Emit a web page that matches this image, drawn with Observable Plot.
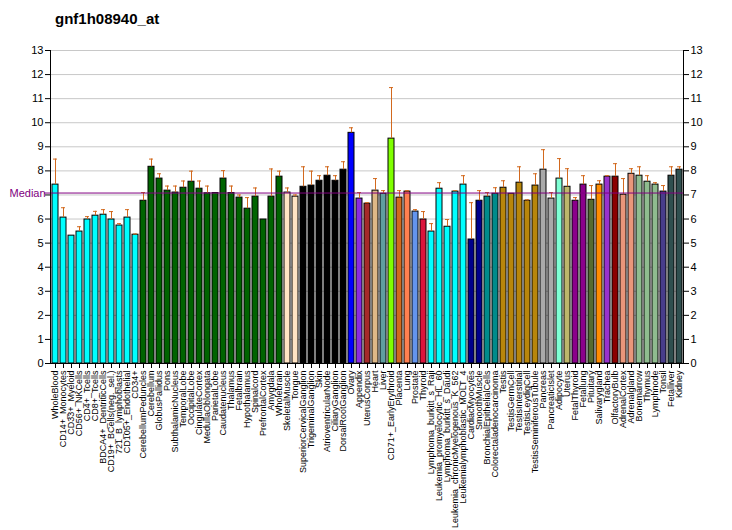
<!DOCTYPE html>
<html>
<head>
<meta charset="utf-8">
<script src="https://cdn.jsdelivr.net/npm/d3@7"></script>
<script src="https://cdn.jsdelivr.net/npm/@observablehq/plot@0.6"></script>
<style>
  body { margin: 0; background: #fff; }
  #wrap { position: relative; width: 732px; height: 530px; font-family: "Liberation Sans", Arial, sans-serif; }
  #title { position: absolute; left: 55px; top: 10px; font-size: 15px; font-weight: bold; color: #000; }
</style>
</head>
<body>
<div id="wrap"><div id="title">gnf1h08940_at</div></div>
<script>
const names = ["WholeBlood","CD14+_Monocytes","CD33+_Myeloid","CD56+_NKCells","CD4+_Tcells","CD8+_Tcells","BDCA4+_DentriticCells","CD19+_BCells(neg._sel.)","721_B_lymphoblasts","CD105+_Endothelial","CD34+",
"CerebellumPeduncles","Cerebellum","GlobusPallidus","Pons","SubthalamicNucleus","TemporalLobe","OccipitalLobe","CingulateCortex","MedullaOblongata","ParietalLobe","Caudatenucleus","Thalamus","Fetalbrain","Hypothalamus","Spinalcord","PrefrontalCortex","Amygdala","Wholebrain",
"SkeletalMuscle","Tongue","SuperiorCervicalGanglion","TrigeminalGanglion","Skin","AtrioventricularNode","CiliaryGanglion","DorsalRootGanglion","Ovary","Appendix","UterusCorpus","Heart","Liver","CD71+_EarlyErythroid","Placenta","Lung","Prostate","Thyroid",
"Lymphoma_burkitt_s_Raji","Leukemia_promyelocytic_HL_60","Lymphoma_burkitt_s_Daudi","Leukemia_chronicMyelogenous_K_562","Leukemialymphoblastic_MOLT_4",
"CardiacMyocytes","SmoothMuscle","BronchialEpithelialCells","Colorectaladenocarcinoma","Testis","TestisGermCell","TestisInterstitial","TestisLeydigCell","TestisSeminiferousTubule","Pancreas","PancreaticIslet","Adipocyte","Uterus","FetalThyroid","Fetallung","Pituitary","Salivarygland","Trachea","OlfactoryBulb","AdrenalCortex","Adrenalgland","Bonemarrow","Thymus","Lymphnode","Tonsil","Fetalliver","Kidney"];

const values = [7.43,6.06,5.31,5.48,5.98,6.14,6.18,5.98,5.73,6.06,5.35,
6.76,8.17,7.68,7.18,7.10,7.30,7.55,7.26,7.07,7.08,7.68,7.08,6.89,6.43,6.93,5.98,6.93,7.76,
7.10,6.93,7.34,7.39,7.59,7.80,7.59,8.05,9.58,6.85,6.64,7.18,7.05,9.34,6.89,7.14,6.31,5.98,
5.48,7.26,5.68,7.14,7.43,
5.15,6.76,6.93,7.05,7.30,7.05,7.51,6.76,7.39,8.05,6.85,7.68,7.34,6.76,7.43,6.80,7.43,7.76,7.76,7.01,7.88,7.80,7.55,7.43,7.14,7.80,8.05];

const errTops = [8.49,6.47,5.31,5.68,6.10,6.32,6.39,6.31,5.81,6.39,5.38,
7.10,8.49,7.88,7.37,7.37,7.58,7.99,7.58,7.37,7.08,8.01,7.37,7.00,6.89,7.29,5.98,8.08,7.99,
7.29,7.00,8.17,7.99,7.80,8.17,7.80,8.38,9.79,7.10,6.68,7.68,7.18,11.46,7.18,7.18,6.39,6.31,
5.81,7.51,5.98,7.18,7.80,
6.68,7.18,7.10,7.30,7.59,7.05,8.17,6.80,7.88,8.88,7.10,8.51,8.09,6.89,7.80,7.39,7.59,7.80,8.30,7.68,8.09,8.17,7.80,7.51,7.39,8.17,8.17];

const colors = [
"cyan","cyan","cyan","cyan","cyan","cyan","cyan","cyan","cyan","cyan","cyan",
"darkgreen","darkgreen","darkgreen","darkgreen","darkgreen","darkgreen","darkgreen","darkgreen","darkgreen","darkgreen","darkgreen","darkgreen","darkgreen","darkgreen","darkgreen","darkgreen","darkgreen","darkgreen",
"bisque","bisque","black","black","black","black","black","black","blue","blueviolet","brown","burlywood","cadetblue","chartreuse","chocolate","coral","cornflowerblue","crimson",
"cyan","cyan","cyan","cyan","cyan",
"darkblue","darkblue","darkcyan","darkcyan","darkgoldenrod","darkgoldenrod","darkgoldenrod","darkgoldenrod","darkgoldenrod","darkgray","darkgray","aquamarine","darkkhaki","darkmagenta","darkmagenta","darkolivegreen","darkorange","darkorchid","darkred","darksalmon","darksalmon","darkseagreen","darkseagreen","darkseagreen","darkslateblue","darkslategray","darkslategray"];

const median = 7.08;
const yTicks = [0,1,2,3,4,5,6,7,8,9,10,11,12,13];

const data = names.map((name, i) => ({name, value: values[i], err: errTops[i], color: colors[i]}));
const withErr = data.filter(d => d.err > d.value + 0.005);

const plot = Plot.plot({
  width: 732,
  height: 530,
  marginTop: 50,
  marginRight: 49,
  marginBottom: 167,
  marginLeft: 50,
  style: {fontFamily: "'Liberation Sans', Arial, sans-serif", background: "white", color: "black"},
  x: {type: "band", domain: names, paddingInner: 0.25, paddingOuter: 0.1},
  y: {domain: [0, 13]},
  marks: [
    Plot.gridY(yTicks.slice(1), {stroke: "#c8c8c8", strokeOpacity: 1}),
    Plot.axisY(yTicks, {anchor: "left", tickSize: 5, tickPadding: 2, fontSize: 11, label: null, tickFormat: d => d === 7 ? "" : String(d)}),
    Plot.axisY(yTicks, {anchor: "right", tickSize: 5, tickPadding: 2, fontSize: 11, label: null}),
    Plot.axisX({tickRotate: -90, tickSize: 5, tickPadding: 2, fontSize: 9, label: null}),
    Plot.barY(data, {x: "name", y: "value", fill: "color", stroke: "black", strokeWidth: 1}),
    Plot.ruleX(withErr, {x: "name", y1: "value", y2: "err", stroke: "#d2691e", strokeWidth: 1}),
    Plot.tickY(withErr, {x: "name", y: "err", stroke: "#d2691e", strokeWidth: 1, insetLeft: 1, insetRight: 1}),
    Plot.ruleY([median], {stroke: "purple", strokeWidth: 1, insetLeft: -6}),
    Plot.text([median], {y: d => d, frameAnchor: "left", dx: -41, textAnchor: "start", lineAnchor: "middle", fill: "purple", fontSize: 11, text: () => "Median"}),
    Plot.ruleY([0], {stroke: "black"}),
    Plot.frame({anchor: "left", stroke: "black"}),
    Plot.frame({anchor: "right", stroke: "black"})
  ]
});
document.getElementById("wrap").appendChild(plot);
</script>
</body>
</html>
